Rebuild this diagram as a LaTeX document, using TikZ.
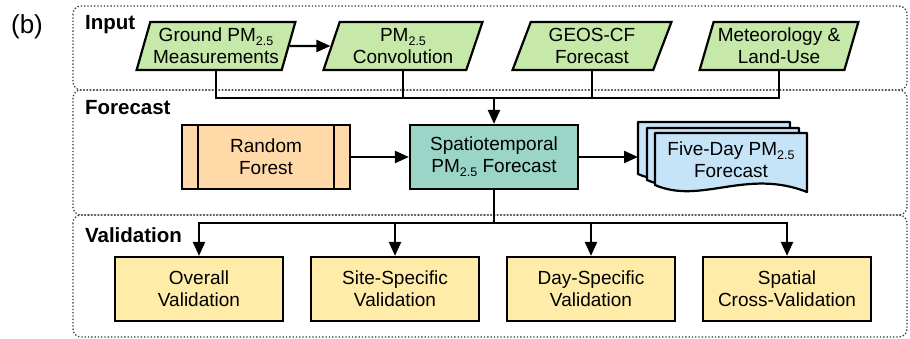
\documentclass[tikz,border=0pt]{standalone}
\usepackage{fontspec}
\setmainfont{Liberation Sans}
\usetikzlibrary{shapes.geometric,arrows.meta}
\definecolor{gfill}{HTML}{C6E8A8}
\definecolor{ofill}{HTML}{FFDAA8}
\definecolor{tfill}{HTML}{9AD5C8}
\definecolor{bfill}{HTML}{C6E4F7}
\definecolor{yfill}{HTML}{FFECA8}
\newcommand\pmtf{PM\raisebox{-0.22em}{\fontsize{12.5}{12.5}\selectfont 2.5}}
\begin{document}
\begin{tikzpicture}[x=1pt,y=-1pt, line width=2.2pt,
  >={Triangle[length=14pt,width=12pt]},
  every node/.style={font=\fontsize{19}{22}\selectfont, align=center, inner sep=0pt},
  panel/.style={draw=black!80, dotted, line width=1.3pt, rounded corners=8pt},
  paratitle/.style={anchor=base west, font=\bfseries\fontsize{20.5}{20.5}\selectfont},
  para/.style={trapezium, trapezium left angle=70, trapezium right angle=110,
    trapezium stretches=true, minimum width=159pt, minimum height=48pt, draw, fill=gfill},
  rfbox/.style={rectangle, draw, fill=ofill, minimum width=168pt, minimum height=64pt},
  stbox/.style={rectangle, draw, fill=tfill, minimum width=168pt, minimum height=64pt},
  valbox/.style={rectangle, draw, fill=yfill, minimum width=168pt, minimum height=64pt},
  docshape/.style={draw, fill=bfill, line join=round}]
\useasboundingbox (0,0) rectangle (910,339);
% panels
\draw[panel] (73,6) rectangle (907,90);
\draw[panel] (73,90) rectangle (907,215);
\draw[panel] (73,215) rectangle (907,337);
% labels
\node[anchor=base west, font=\fontsize{26}{26}\selectfont] (lab) at (10,34) {(b)};
\node[paratitle] (tin) at (84,30) {Input};
\node[paratitle] (tfo) at (84,115) {Forecast};
\node[paratitle] (tva) at (84,242) {Validation};
% input row
\node[para] (g1) at (216,46) {Ground \pmtf\\Measurements};
\node[para] (g2) at (403,46) {\pmtf\\Convolution};
\node[para] (g3) at (592,46) {GEOS-CF\\Forecast};
\node[para] (g4) at (779,46) {Meteorology \&\\Land-Use};
\draw[->] (g1.east) -- (g2.west);
\coordinate (bus) at (494,98);
\draw (g1.center |- g1.south) |- (bus);
\draw (g2.center |- g2.south) |- (bus);
\draw (g3.center |- g3.south) |- (bus);
\draw (g4.center |- g4.south) |- (bus);
% forecast row
\node[rfbox] (rf) at (266,157) {Random\\Forest};
\draw ([xshift=17pt]rf.north west) -- ([xshift=17pt]rf.south west);
\draw ([xshift=-17pt]rf.north east) -- ([xshift=-17pt]rf.south east);
\node[stbox] (st) at (494,157) {Spatiotemporal\\\pmtf{} Forecast};
\draw[->] (bus) -- (st.north);
\draw[->] (rf.east) -- (st.west);
% documents
\begin{scope}[shift={(638,122)}]
\draw[docshape] (0,0) -- (152,0) -- (152,59) .. controls (91,35) and (46,72) .. (0,52) -- cycle;
\end{scope}
\begin{scope}[shift={(647,128)}]
\draw[docshape] (0,0) -- (152,0) -- (152,59) .. controls (91,35) and (46,72) .. (0,52) -- cycle;
\end{scope}
\begin{scope}[shift={(655,133)}]
\draw[docshape] (0,0) -- (152,0) -- (152,59) .. controls (91,35) and (46,72) .. (0,52) -- cycle;
\end{scope}
\node (five) at (731,160) {Five-Day \pmtf\\Forecast};
\coordinate (docin) at (638,157);
\draw[->] (st.east) -- (docin);
% validation row
\node[valbox] (v1) at (199,289) {Overall\\Validation};
\node[valbox] (v2) at (395,289) {Site-Specific\\Validation};
\node[valbox] (v3) at (591,289) {Day-Specific\\Validation};
\node[valbox] (v4) at (787,289) {Spatial\\Cross-Validation};
\coordinate (vbus) at (494,223);
\draw (st.south) -- (vbus);
\draw[->] (vbus) -| (v1.north);
\draw[->] (vbus) -| (v2.north);
\draw[->] (vbus) -| (v3.north);
\draw[->] (vbus) -| (v4.north);
\end{tikzpicture}
\end{document}
